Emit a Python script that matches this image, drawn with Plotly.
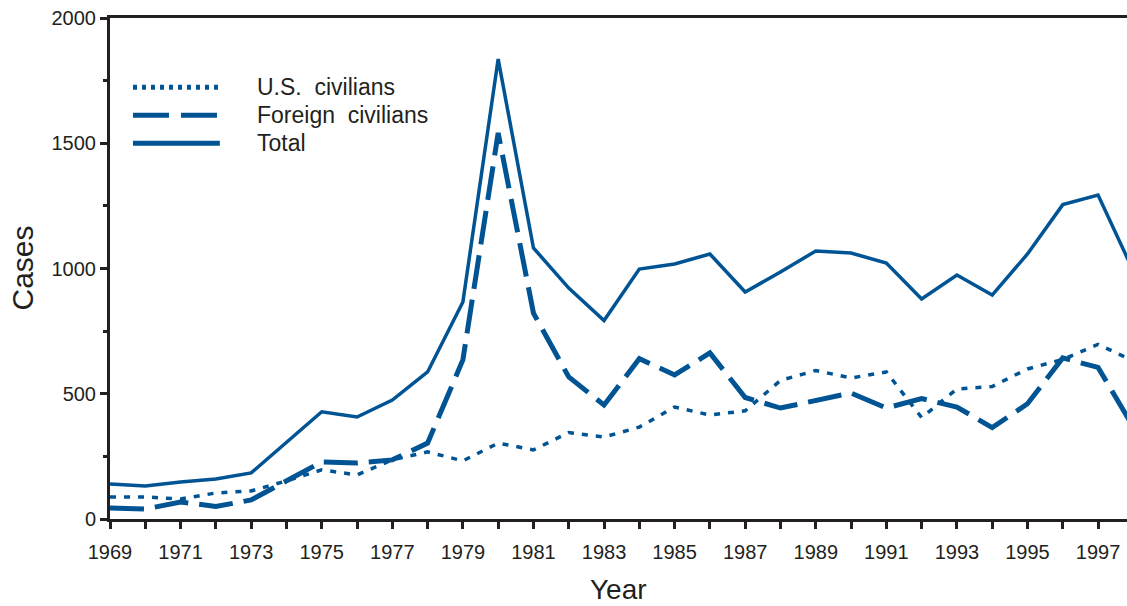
import plotly.graph_objects as go

years = list(range(1969, 1999))
us_civilians = [88, 88, 80, 104, 112, 152, 196, 176, 236, 268, 232, 303, 276, 345, 327,
                367, 447, 415, 432, 553, 593, 563, 587, 405, 519, 529, 599, 637, 697, 631]
foreign_civilians = [44, 40, 68, 50, 76, 150, 228, 224, 236, 303, 635, 1541, 822, 567, 455,
                     640, 575, 663, 485, 443, 475, 503, 443, 481, 447, 365, 460, 643, 605, 367]
total = [140, 132, 148, 160, 184, 308, 428, 407, 475, 587, 866, 1836, 1082, 922, 792,
         998, 1018, 1058, 906, 986, 1070, 1062, 1022, 878, 974, 894, 1058, 1255, 1293, 990]

series_names = ["U.S.  civilians", "Foreign  civilians", "Total"]
y_ticks = [0, 500, 1000, 1500, 2000]
x_tick_labels = [str(y) if (y - 1969) % 2 == 0 else "" for y in years]

BLUE = "#005493"
INK = "#231f20"
FONT = "Liberation Sans, Arial, sans-serif"

fig = go.Figure()
fig.add_trace(go.Scatter(x=years, y=us_civilians, mode="lines", name=series_names[0],
                         line=dict(color=BLUE, width=3.5, dash="6px,8px"), showlegend=False))
fig.add_trace(go.Scatter(x=years, y=foreign_civilians, mode="lines", name=series_names[1],
                         line=dict(color=BLUE, width=5, dash="34px,11px"), showlegend=False))
fig.add_trace(go.Scatter(x=years, y=total, mode="lines", name=series_names[2],
                         line=dict(color=BLUE, width=3.5), showlegend=False))

# custom legend (long sample lines as in the original)
legend_rows = [0.862, 0.806, 0.750]
legend_dashes = ["4px,5px", "36px,12px", "solid"]
for name, yy, dash in zip(series_names, legend_rows, legend_dashes):
    fig.add_shape(type="line", xref="paper", yref="paper", x0=0.0226, x1=0.108, y0=yy, y1=yy,
                  line=dict(color=BLUE, width=5, dash=dash))
    fig.add_annotation(xref="paper", yref="paper", x=0.1426, y=yy, text=name, showarrow=False,
                       xanchor="left", yanchor="middle", font=dict(family=FONT, size=23, color=INK))

fig.add_annotation(xref="paper", yref="paper", x=0.5, y=-0.1417, text="Year", showarrow=False,
                   xanchor="center", yanchor="middle", font=dict(family=FONT, size=28, color=INK))
fig.add_annotation(xref="paper", yref="paper", x=-0.0865, y=0.5, text="Cases", showarrow=False,
                   textangle=-90, xanchor="center", yanchor="middle",
                   font=dict(family=FONT, size=30, color=INK))

fig.update_layout(
    width=1127, height=606,
    margin=dict(l=110, r=0, t=18, b=87),
    paper_bgcolor="white", plot_bgcolor="white",
    font=dict(family=FONT, size=20, color=INK),
    showlegend=False,
)
fig.update_xaxes(
    range=[1969, 1997.82], tickmode="array", tickvals=years, ticktext=x_tick_labels,
    ticks="outside", ticklen=7, tickwidth=3, tickcolor=INK,
    showline=True, linewidth=3, linecolor=INK, mirror=True,
    showgrid=False, zeroline=False, tickfont=dict(size=20, color=INK),
    ticklabelstandoff=6,
)
fig.update_yaxes(
    range=[0, 2000], tickmode="array", tickvals=y_ticks,
    ticks="outside", ticklen=7, tickwidth=3, tickcolor=INK,
    minor=dict(dtick=250, ticks="outside", ticklen=4, tickwidth=3, tickcolor=INK, showgrid=False),
    showline=True, linewidth=3, linecolor=INK,
    showgrid=False, zeroline=False, tickfont=dict(size=20, color=INK),
)

fig.write_html("out.html", config={"displayModeBar": False},
               post_script="document.body.style.margin='0';document.body.style.overflow='hidden';")
